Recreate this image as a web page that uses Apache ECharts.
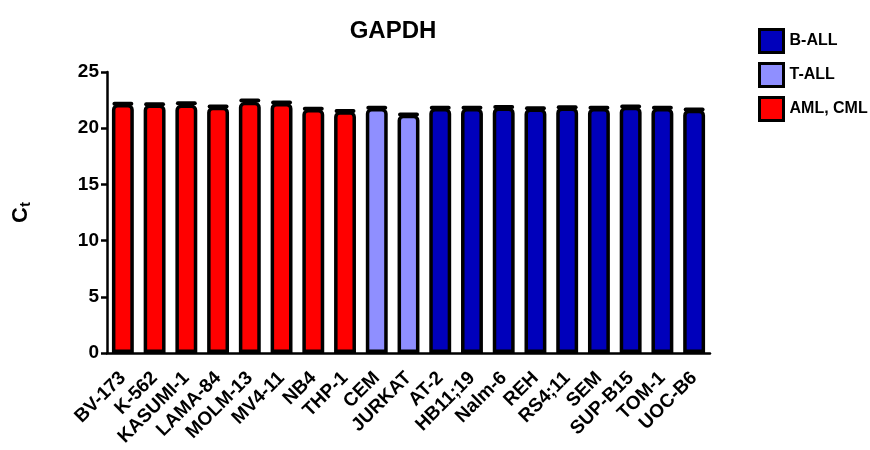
<!DOCTYPE html>
<html>
<head>
<meta charset="utf-8">
<script src="https://cdn.jsdelivr.net/npm/echarts@6/dist/echarts.min.js"></script>
<style>
  html, body { margin: 0; padding: 0; background: #fff; }
  #chart { width: 870px; height: 450px; }
</style>
</head>
<body>
<div id="chart"></div>
<script>
// Cell lines and their GAPDH Ct values (mean, upward SEM)
const cellLines = ['BV-173', 'K-562', 'KASUMI-1', 'LAMA-84', 'MOLM-13', 'MV4-11', 'NB4', 'THP-1',
  'CEM', 'JURKAT',
  'AT-2', 'HB11;19', 'Nalm-6', 'REH', 'RS4;11', 'SEM', 'SUP-B15', 'TOM-1', 'UOC-B6'];
const ctValues = [22.15, 22.1, 22.1, 21.9, 22.35, 22.25, 21.7, 21.5,
  21.8, 21.2,
  21.8, 21.8, 21.85, 21.75, 21.85, 21.8, 21.9, 21.8, 21.65];
const ctErrors = [0.02, 0.02, 0.12, 0.02, 0.12, 0.04, 0.02, 0.02,
  0.02, 0.02,
  0.02, 0.02, 0.04, 0.02, 0.02, 0.02, 0.04, 0.02, 0.02];
const groups = ['AML, CML', 'AML, CML', 'AML, CML', 'AML, CML', 'AML, CML', 'AML, CML', 'AML, CML', 'AML, CML',
  'T-ALL', 'T-ALL',
  'B-ALL', 'B-ALL', 'B-ALL', 'B-ALL', 'B-ALL', 'B-ALL', 'B-ALL', 'B-ALL', 'B-ALL'];
const legendOrder = ['B-ALL', 'T-ALL', 'AML, CML'];
const groupColors = { 'B-ALL': '#0000bb', 'T-ALL': '#8f8fff', 'AML, CML': '#ff0000' };
const yTicks = { min: 0, max: 25, interval: 5 };

const font = 'Liberation Sans, Arial, sans-serif';
const barFrac = 0.69;

const barSeries = legendOrder.map(g => ({
  name: g,
  type: 'bar',
  stack: 'ct',
  barWidth: (barFrac * 100) + '%',
  itemStyle: { color: groupColors[g], borderColor: '#000', borderWidth: 3.5, borderRadius: [4, 4, 0, 0] },
  data: ctValues.map((v, i) => groups[i] === g ? v : '-'),
  z: 3
}));

// Upward error bars drawn beneath the bars: stem from the mean plus a cap as wide as the bar
const errorSeries = {
  type: 'custom',
  name: 'err',
  z: 2,
  data: ctValues.map((v, i) => [i, v, v + ctErrors[i]]),
  renderItem: function (params, api) {
    const x = api.value(0);
    const top = api.coord([x, api.value(2)]);
    const base = api.coord([x, api.value(1)]);
    const half = api.size([1, 0])[0] * barFrac / 2 - 2.5;
    return {
      type: 'group',
      children: [
        { type: 'line', shape: { x1: top[0], y1: top[1], x2: base[0], y2: base[1] }, style: { stroke: '#000', lineWidth: 4 } },
        { type: 'line', shape: { x1: top[0] - half, y1: top[1], x2: top[0] + half, y2: top[1] }, style: { stroke: '#000', lineWidth: 4, lineCap: 'round' } }
      ]
    };
  }
};

const chart = echarts.init(document.getElementById('chart'), null, { renderer: 'canvas' });
chart.setOption({
  animation: false,
  title: {
    text: 'GAPDH',
    left: 388, top: 14, textAlign: 'center',
    textStyle: { fontFamily: font, fontWeight: 'bold', fontSize: 24, color: '#000' }
  },
  legend: {
    data: legendOrder,
    orient: 'vertical',
    left: 753, top: 23,
    itemWidth: 24, itemHeight: 23, itemGap: 8,
    icon: 'rect',
    itemStyle: { borderColor: '#000', borderWidth: 3 },
    textStyle: { fontFamily: font, fontWeight: 'bold', fontSize: 16, color: '#000', padding: [0, 0, 0, 1] }
  },
  grid: { left: 107, right: 160, top: 72, bottom: 97, containLabel: false },
  xAxis: {
    type: 'category',
    data: cellLines,
    axisLine: { lineStyle: { color: '#000', width: 2.5 } },
    axisTick: { alignWithLabel: true, length: 7, lineStyle: { color: '#000', width: 2.5 } },
    axisLabel: {
      rotate: 45, interval: 0, margin: 22,
      fontFamily: font, fontWeight: 'bold', fontSize: 19, color: '#000'
    }
  },
  yAxis: {
    type: 'value',
    min: yTicks.min, max: yTicks.max, interval: yTicks.interval,
    name: '{c|C}{t|t}',
    nameLocation: 'middle',
    nameGap: 74,
    nameRotate: 90,
    nameTextStyle: {
      rich: {
        c: { fontFamily: font, fontWeight: 'bold', fontSize: 22, color: '#000' },
        t: { fontFamily: font, fontWeight: 'bold', fontSize: 15, color: '#000', verticalAlign: 'bottom', padding: [10, 0, 0, 0] }
      }
    },
    splitLine: { show: false },
    axisLine: { show: true, lineStyle: { color: '#000', width: 2.5 } },
    axisTick: { show: true, length: 6, lineStyle: { color: '#000', width: 2.5 } },
    axisLabel: { fontFamily: font, fontWeight: 'bold', fontSize: 19, color: '#000', margin: 8 }
  },
  series: [...barSeries, errorSeries]
});
</script>
</body>
</html>
